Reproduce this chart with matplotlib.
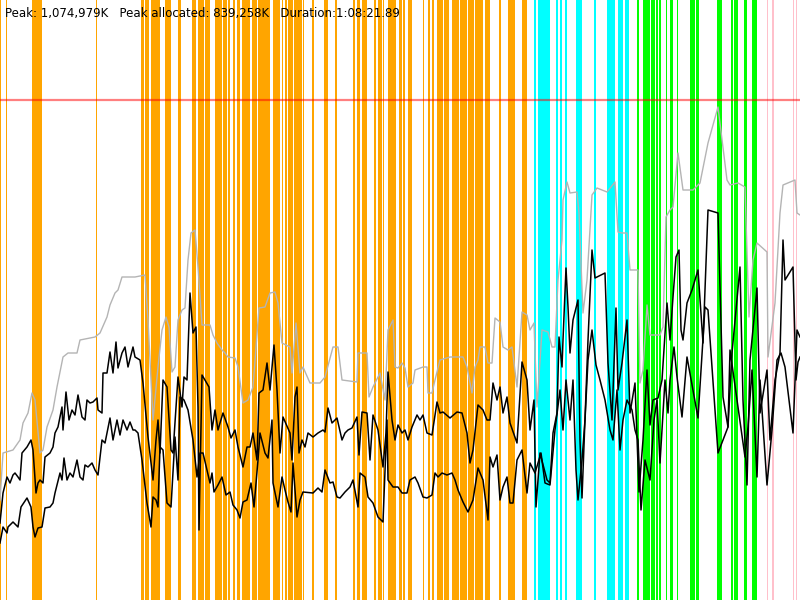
#Heap usage chart: committed memory (gray), two used-memory traces (black)
#GC events as coloured vertical bands, heap limit as red line
import matplotlib
matplotlib.use('Agg')
import matplotlib.pyplot as plt

# time in samples (about 5.1 s each), memory in MB
committed_t = [0, 3, 13, 20, 23, 28, 32, 35, 40, 43, 47, 53, 57, 63, 68, 77, 80, 95, 100, 107,
               110, 115, 118, 122, 135, 145, 148, 153, 158, 162, 166, 169, 172, 175, 178, 182, 185, 188, 191, 195,
               198, 202, 210, 213, 217, 222, 225, 228, 235, 238, 243, 248, 253, 259, 265, 270, 275, 278, 282, 290,
               292, 296, 300, 303, 310, 320, 325, 333, 338, 342, 357, 358, 367, 369, 373, 380, 385, 388, 393, 395,
               398, 402, 405, 408, 413, 415, 423, 427, 428, 432, 435, 440, 450, 463, 467, 472, 475, 478, 480, 485,
               488, 492, 495, 500, 503, 508, 512, 517, 522, 527, 530, 534, 537, 542, 548, 552, 555, 558, 562, 563,
               567, 570, 577, 579, 583, 587, 592, 597, 607, 615, 618, 622, 627, 630, 638, 640, 643, 647, 650, 660,
               663, 666, 670, 673, 678, 683, 693, 700, 708, 718, 727, 730, 738, 745, 749, 753, 757, 767, 768, 775,
               780, 783, 795, 797, 800]
committed_mb = [200, 294, 300, 320, 354, 374, 414, 400, 294, 300, 346, 380, 426, 486, 494, 494, 520, 526, 534, 566,
                590, 614, 620, 646, 646, 650, 560, 360, 466, 540, 566, 546, 456, 466, 560, 580, 584, 680, 734, 740,
                666, 550, 550, 530, 514, 500, 494, 486, 484, 466, 394, 400, 426, 584, 586, 614, 616, 594, 514, 506,
                454, 554, 454, 466, 434, 434, 446, 506, 506, 440, 436, 494, 494, 406, 426, 454, 400, 540, 560, 466,
                464, 474, 464, 426, 434, 460, 466, 466, 414, 414, 440, 480, 486, 486, 466, 414, 466, 480, 506, 506,
                474, 474, 564, 556, 506, 500, 506, 426, 576, 570, 540, 554, 386, 540, 536, 506, 506, 640, 720, 800,
                836, 814, 816, 774, 574, 640, 810, 824, 816, 836, 736, 734, 734, 660, 660, 434, 460, 590, 530, 530,
                546, 766, 780, 786, 894, 820, 820, 834, 914, 986, 840, 830, 834, 826, 566, 680, 714, 696, 486, 594,
                774, 830, 840, 774, 770]

used_a_t = [0, 3, 7, 10, 13, 15, 18, 20, 22, 27, 31, 33, 36, 38, 40, 43, 45, 50, 53, 55,
            58, 62, 63, 66, 69, 72, 75, 78, 82, 85, 87, 90, 93, 97, 98, 102, 103, 107, 110, 113,
            116, 118, 122, 125, 128, 133, 135, 140, 143, 148, 153, 156, 158, 160, 163, 167, 171, 173, 178, 182,
            184, 187, 190, 193, 196, 198, 199, 202, 209, 212, 215, 218, 220, 223, 228, 231, 235, 238, 243, 247,
            250, 253, 257, 259, 263, 267, 270, 274, 277, 280, 283, 290, 292, 295, 297, 299, 302, 305, 308, 313,
            318, 323, 325, 328, 332, 337, 342, 345, 348, 352, 357, 359, 362, 367, 370, 373, 378, 383, 386, 388,
            392, 395, 398, 402, 405, 408, 412, 417, 420, 423, 427, 432, 437, 440, 443, 450, 457, 462, 467, 470,
            473, 478, 483, 487, 490, 493, 497, 500, 503, 507, 510, 517, 522, 527, 530, 534, 536, 540, 547, 550,
            553, 557, 559, 562, 563, 566, 568, 570, 573, 578, 580, 582, 585, 588, 592, 595, 605, 608, 612, 616,
            618, 622, 627, 630, 635, 639, 643, 647, 650, 653, 658, 662, 667, 670, 673, 676, 679, 681, 683, 687,
            692, 698, 703, 708, 718, 723, 728, 732, 740, 743, 747, 750, 757, 760, 767, 770, 775, 780, 783, 785,
            793, 796, 798, 800]
used_a_mb = [154, 214, 246, 234, 250, 254, 246, 240, 294, 306, 320, 300, 214, 234, 240, 234, 286, 294, 306, 334,
             346, 386, 340, 416, 360, 380, 370, 410, 366, 360, 400, 394, 396, 404, 380, 374, 454, 454, 496, 454,
             516, 464, 494, 506, 466, 506, 486, 480, 434, 326, 240, 320, 360, 294, 440, 426, 300, 294, 446, 386,
             446, 440, 614, 534, 546, 386, 140, 450, 426, 340, 380, 340, 354, 374, 346, 324, 340, 306, 266, 306,
             306, 334, 280, 414, 420, 474, 420, 510, 420, 294, 366, 334, 280, 406, 426, 294, 320, 306, 334, 326,
             334, 340, 336, 384, 354, 364, 320, 334, 340, 344, 366, 290, 376, 374, 280, 370, 340, 266, 334, 456,
             360, 320, 350, 334, 340, 320, 346, 370, 360, 370, 334, 330, 396, 374, 376, 364, 376, 374, 334, 274,
             300, 390, 380, 360, 360, 434, 400, 426, 374, 406, 354, 314, 476, 440, 340, 400, 186, 294, 240, 234,
             334, 374, 526, 466, 520, 664, 586, 494, 560, 600, 320, 204, 360, 520, 700, 644, 654, 474, 360, 584,
             420, 474, 560, 374, 434, 216, 320, 460, 350, 400, 404, 440, 594, 520, 606, 686, 700, 540, 520, 594,
             620, 660, 514, 780, 774, 406, 346, 494, 666, 400, 230, 480, 624, 374, 460, 320, 440, 494, 720, 640,
             666, 440, 476, 486]

used_b_t = [0, 3, 7, 8, 13, 18, 21, 27, 31, 33, 35, 38, 42, 45, 50, 53, 55, 60, 62, 64,
            67, 70, 73, 77, 80, 83, 85, 88, 92, 95, 98, 102, 105, 110, 113, 117, 120, 123, 127, 130,
            133, 135, 138, 142, 147, 151, 153, 156, 158, 160, 163, 167, 171, 175, 178, 180, 184, 188, 193, 197,
            200, 203, 207, 210, 212, 214, 218, 222, 226, 230, 233, 237, 240, 243, 247, 251, 254, 258, 260, 265,
            268, 272, 273, 278, 282, 285, 288, 291, 293, 297, 300, 303, 313, 318, 322, 325, 330, 333, 337, 340,
            345, 350, 353, 358, 360, 365, 368, 373, 378, 383, 387, 388, 393, 398, 402, 407, 410, 415, 418, 423,
            427, 432, 435, 438, 442, 447, 452, 455, 458, 463, 468, 473, 478, 483, 488, 490, 493, 497, 500, 503,
            507, 510, 513, 517, 522, 527, 530, 535, 541, 545, 550, 555, 560, 563, 566, 570, 573, 576, 578, 582,
            585, 588, 592, 596, 600, 605, 610, 613, 617, 620, 623, 627, 632, 635, 638, 641, 645, 650, 654, 657,
            660, 665, 668, 670, 674, 677, 682, 687, 698, 705, 708, 718, 728, 730, 745, 748, 752, 757, 760, 767,
            772, 777, 781, 785, 793, 797, 800]
used_b_mb = [114, 146, 134, 146, 156, 146, 186, 204, 186, 146, 126, 144, 146, 184, 186, 194, 214, 254, 240, 284,
             240, 254, 246, 280, 246, 240, 270, 266, 274, 260, 250, 320, 314, 364, 320, 360, 330, 360, 340, 356,
             340, 340, 334, 280, 194, 146, 206, 200, 186, 306, 300, 194, 186, 326, 240, 406, 400, 380, 320, 246,
             294, 294, 260, 234, 254, 216, 230, 246, 210, 216, 190, 180, 164, 196, 200, 234, 186, 280, 334, 294,
             284, 360, 234, 186, 246, 220, 196, 176, 274, 166, 200, 216, 214, 224, 216, 260, 234, 236, 206, 204,
             216, 226, 240, 186, 254, 246, 206, 194, 166, 156, 360, 240, 226, 226, 214, 214, 240, 246, 234, 206,
             204, 210, 254, 246, 254, 250, 254, 240, 220, 196, 176, 200, 264, 240, 160, 286, 266, 290, 200, 226,
             246, 194, 194, 280, 300, 214, 274, 254, 294, 234, 230, 340, 420, 340, 440, 360, 440, 260, 200, 280,
             360, 480, 540, 470, 440, 400, 340, 320, 420, 300, 360, 400, 380, 340, 320, 180, 280, 240, 360, 400,
             274, 440, 374, 440, 506, 446, 366, 486, 364, 586, 580, 294, 346, 500, 286, 346, 460, 246, 440, 230,
             340, 480, 494, 466, 334, 540, 526]

heap_limit_mb = 1000

# GC events (start, end) in samples
young_gc = [(0, 1), (6, 7), (32, 42), (96, 97), (141, 144), (145, 149), (151, 155), (155, 160), (165, 171),
            (178, 181), (192, 196), (198, 204), (205, 210), (215, 222), (223, 227), (228, 230), (233, 235),
            (237, 240), (242, 250), (252, 257), (258, 270), (273, 280), (282, 283), (285, 287), (288, 293),
            (294, 302), (303, 304), (312, 314), (324, 328), (335, 337), (353, 355), (357, 360), (362, 367),
            (374, 376), (378, 382), (383, 384), (388, 396), (399, 402), (403, 405), (408, 412), (423, 424),
            (428, 430), (432, 434), (437, 443), (444, 449), (452, 459), (460, 467), (468, 474), (475, 483),
            (485, 490), (499, 501), (508, 515), (522, 527)]
mixed_gc = [(534, 536), (538, 550), (556, 558), (560, 562), (565, 567), (576, 582), (594, 596),
            (607, 615), (618, 623), (625, 629)]
full_gc = [(637, 639), (643, 650), (651, 655), (656, 658), (659, 661), (666, 667), (670, 673), (677, 678),
           (690, 695), (696, 699), (717, 722), (731, 733), (734, 738), (744, 747), (752, 757)]
other_gc = [(767, 768), (772, 774), (793, 794), (796, 797)]

fig = plt.figure(figsize=(8, 6), dpi=100)
ax = fig.add_axes([0, 0, 1, 1])

for spans, col in [(young_gc, '#FFA500'), (mixed_gc, '#00FFFF'), (full_gc, '#00FF00'), (other_gc, '#FFC0CB')]:
    for s, e in spans:
        ax.axvspan(s, e, color=col, lw=0, zorder=1, antialiased=False)

ax.plot(committed_t, committed_mb, color='#b4b4b4', lw=1, zorder=3)
ax.plot(used_a_t, used_a_mb, color='black', lw=1.1, zorder=4)
ax.plot(used_b_t, used_b_mb, color='black', lw=1.1, zorder=4)
ax.axhline(heap_limit_mb, color='red', alpha=0.5, lw=1.6, zorder=5)

ax.set_xlim(0, 800)
ax.set_ylim(0, 1200)
ax.axis('off')

fig.text(5 / 800, 1 - 13 / 600,
         'Peak: 1,074,979K   Peak allocated: 839,258K   Duration:1:08:21.89',
         fontsize=8.5, va='center', ha='left')

fig.savefig('out.png', dpi=100)
